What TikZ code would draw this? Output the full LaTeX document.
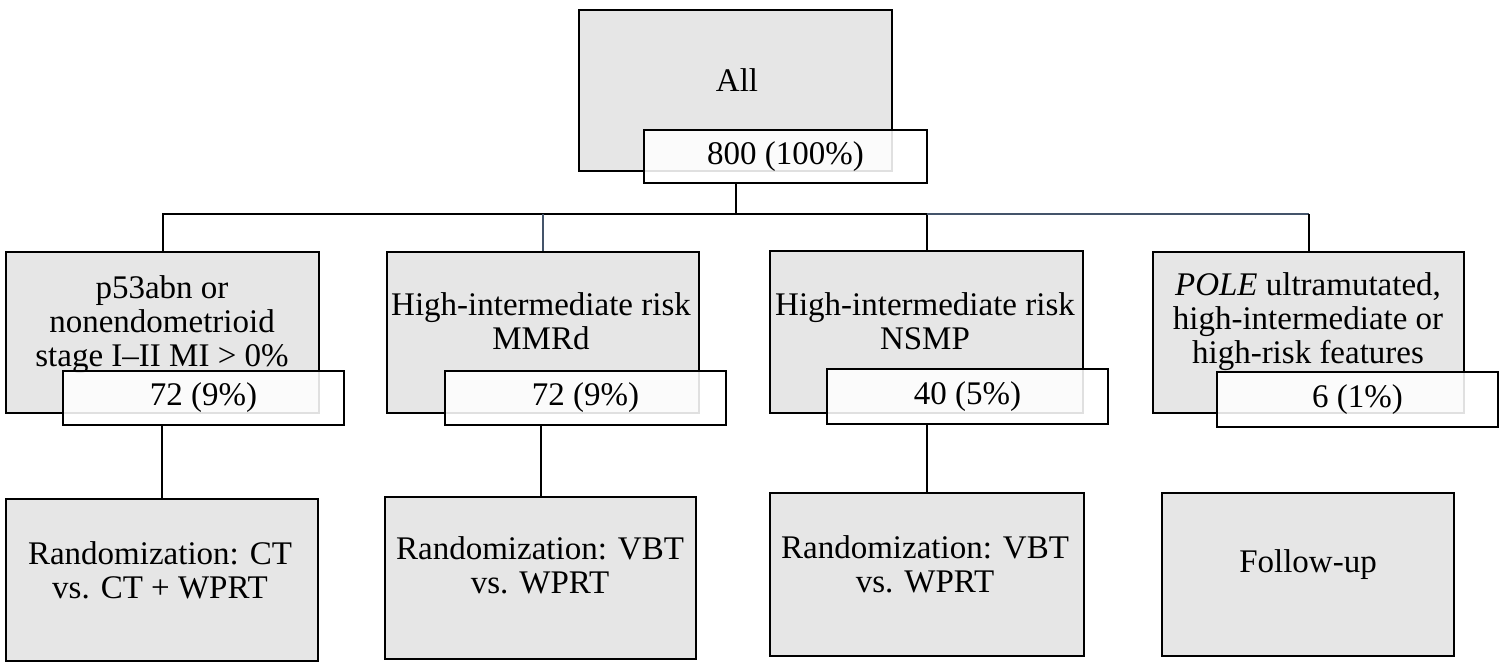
\documentclass[tikz,border=0pt]{standalone}
\usepackage{fontspec}
\setmainfont{Liberation Serif}
\definecolor{boxgray}{RGB}{230,230,230}
\definecolor{slate}{RGB}{68,84,106}
\begin{document}
\begin{tikzpicture}[x=1pt,y=-1pt,
  graybox/.style={draw=black,line width=2.4pt,fill=boxgray,inner sep=0pt},
  whitebox/.style={draw=black,line width=2.4pt,fill=white,fill opacity=0.88,inner sep=0pt},
  txt/.style={font=\fontsize{33}{34}\selectfont,align=center,inner sep=0pt},
  conn/.style={line width=2pt,black},
  connb/.style={line width=1.6pt,slate}]
\useasboundingbox (0,0) rectangle (1504,665);
% top
\node[graybox,minimum width=313pt,minimum height=161pt] (g0) at (735.5,90.5) {};
\node[txt] (t0) at (737,80) {All};
\node[whitebox,minimum width=283pt,minimum height=53pt] (w0) at (785.5,156.5) {};
\node[txt] (n0) at (w0.center) {800 (100\%)};
% row 2
\node[graybox,minimum width=313pt,minimum height=161pt] (g1) at (162.5,332.5) {};
\node[txt] (t1) at (162,325) {p53abn or\\nonendometrioid\\stage I--II MI > 0\%};
\node[whitebox,minimum width=281pt,minimum height=54pt] (w1) at (203.5,398) {};
\node[txt] (n1) at (w1.center) {72 (9\%)};
\node[graybox,minimum width=312pt,minimum height=161pt] (g2) at (543,332.5) {};
\node[txt] (t2) at (541,321) {High-intermediate risk\\MMRd};
\node[whitebox,minimum width=281pt,minimum height=54pt] (w2) at (585.5,398) {};
\node[txt] (n2) at (w2.center) {72 (9\%)};
\node[graybox,minimum width=313pt,minimum height=162pt] (g3) at (926.5,332) {};
\node[txt] (t3) at (925,321) {High-intermediate risk\\NSMP};
\node[whitebox,minimum width=281pt,minimum height=55pt] (w3) at (967.5,396.5) {};
\node[txt] (n3) at (w3.center) {40 (5\%)};
\node[graybox,minimum width=311pt,minimum height=161pt] (g4) at (1308.5,332.5) {};
\node[txt] (t4) at (1308,322) {\textit{POLE} ultramutated,\\high-intermediate or\\high-risk features};
\node[whitebox,minimum width=281pt,minimum height=55pt] (w4) at (1357.5,399.5) {};
\node[txt] (n4) at (w4.center) {6 (1\%)};
% bottom
\node[graybox,minimum width=312pt,minimum height=162pt] (b1) at (162,580) {};
\node[txt] (s1) at (160,570) {Randomization: CT\\vs. CT + WPRT};
\node[graybox,minimum width=311pt,minimum height=162pt] (b2) at (540.5,578) {};
\node[txt] (s2) at (540,565) {Randomization: VBT\\vs. WPRT};
\node[graybox,minimum width=314pt,minimum height=163pt] (b3) at (927,574.5) {};
\node[txt] (s3) at (925,564) {Randomization: VBT\\vs. WPRT};
\node[graybox,minimum width=292pt,minimum height=163pt] (b4) at (1308,574.5) {};
\node[txt] (s4) at (1308,565) {Follow-up};
% connectors
\coordinate (j0) at (736,214);
\draw[conn] (w0.south -| j0) -- (j0);
\draw[conn] (j0 -| g3.north) -| (g1.north);
\draw[conn] (j0 -| g3.north) -- (g3.north);
\draw[connb] (j0 -| g3.north) -- (j0 -| g4.north);
\draw[conn] (j0 -| g4.north) -- (g4.north);
\draw[connb] (j0 -| g2.north) -- (g2.north);
\draw[conn] (w1.south -| b1.north) -- (b1.north);
\draw[conn] (w2.south -| b2.north) -- (b2.north);
\draw[conn] (w3.south -| b3.north) -- (b3.north);
\end{tikzpicture}
\end{document}
